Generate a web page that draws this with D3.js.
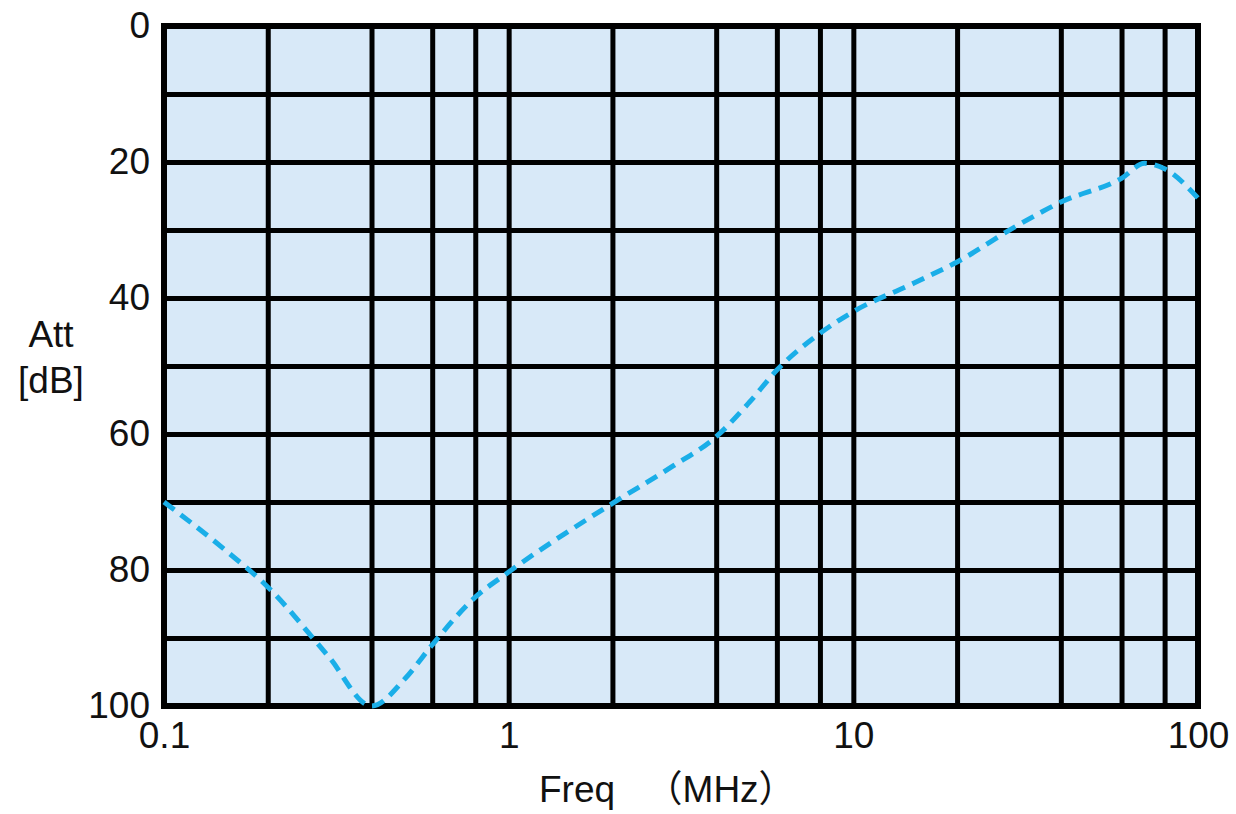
<!DOCTYPE html>
<html>
<head>
<meta charset="utf-8">
<script src="https://cdn.jsdelivr.net/npm/d3@7"></script>
<style>
  body { margin: 0; background: #fff; }
  text { font-family: "Liberation Sans", Arial, "Noto Sans CJK JP", sans-serif; }
</style>
</head>
<body>
<script>
// Data
let freqs = [0.1, 0.15, 0.2, 0.3, 0.4, 0.5, 0.6, 0.8, 1, 2, 3, 4, 5, 6, 8, 10, 15, 20, 30, 40, 60, 70, 80, 100];
let atts  = [70, 77, 82.5, 92.7, 100, 96, 91, 84, 80.3, 70.2, 64.7, 60.4, 55.3, 50.6, 45.2, 42, 37.8, 34.7, 29.3, 25.9, 22.4, 20.2, 21, 25.3];

let xGridValues = [0.1, 0.2, 0.4, 0.6, 0.8, 1, 2, 4, 6, 8, 10, 20, 40, 60, 80, 100];
let xLabelValues = [0.1, 1, 10, 100];
let yGridValues = [0, 10, 20, 30, 40, 50, 60, 70, 80, 90, 100];
let yLabelValues = [0, 20, 40, 60, 80, 100];

let svgWidth = 1236;
let svgHeight = 814;
let margin = {top: 26, right: 38, bottom: 108, left: 164};
let width = svgWidth - margin.left - margin.right;
let height = svgHeight - margin.top - margin.bottom;

let svg = d3.select("body")
  .append("svg")
  .attr("width", svgWidth)
  .attr("height", svgHeight);

let chartGroup = svg.append("g")
  .attr("transform", `translate(${margin.left}, ${margin.top})`);

let xScale = d3.scaleLog()
  .domain([0.1, 100])
  .range([0, width]);

let yScale = d3.scaleLinear()
  .domain([0, 100])
  .range([0, height]);

// background
chartGroup.append("rect")
  .attr("width", width)
  .attr("height", height)
  .attr("fill", "#d8e9f8");

// grid lines
let xGrid = chartGroup.append("g")
  .attr("transform", `translate(0, ${height})`)
  .call(d3.axisBottom(xScale).tickValues(xGridValues).tickSize(-height).tickFormat(""));

let yGrid = chartGroup.append("g")
  .call(d3.axisLeft(yScale).tickValues(yGridValues).tickSize(-width).tickFormat(""));

[xGrid, yGrid].forEach(g => {
  g.select(".domain").remove();
  g.selectAll(".tick line")
    .attr("stroke", "#000")
    .attr("stroke-width", 5);
});

// outer frame
chartGroup.append("rect")
  .attr("width", width)
  .attr("height", height)
  .attr("fill", "none")
  .attr("stroke", "#000")
  .attr("stroke-width", 6);

// the curve
let line = d3.line()
  .x((d, i) => xScale(freqs[i]))
  .y(d => yScale(d))
  .curve(d3.curveMonotoneX);

chartGroup.append("path")
  .datum(atts)
  .attr("d", line)
  .attr("fill", "none")
  .attr("stroke", "#1aaee8")
  .attr("stroke-width", 5)
  .attr("stroke-dasharray", "13,8");

// tick labels
let xLabels = chartGroup.append("g")
  .attr("transform", `translate(0, ${height})`)
  .call(d3.axisBottom(xScale).tickValues(xLabelValues).tickSize(0).tickPadding(16).tickFormat(d => String(d)));

let yLabels = chartGroup.append("g")
  .call(d3.axisLeft(yScale).tickValues(yLabelValues).tickSize(0).tickPadding(14).tickFormat(d => String(d)));

[xLabels, yLabels].forEach(g => {
  g.select(".domain").remove();
  g.selectAll("text")
    .attr("fill", "#111")
    .style("font-size", "37px")
    .style("font-family", "'Liberation Sans', Arial, sans-serif");
});

// axis titles
let xTitle = svg.append("text")
  .attr("x", 539)
  .attr("y", 802)
  .style("font-size", "37px")
  .attr("fill", "#111");
xTitle.append("tspan").text("Freq\u3000");
xTitle.append("tspan").attr("dx", 12).text("（MHz）");

svg.append("text")
  .attr("x", 51)
  .attr("y", 347)
  .attr("text-anchor", "middle")
  .style("font-size", "37px")
  .attr("fill", "#111")
  .text("Att");

svg.append("text")
  .attr("x", 51)
  .attr("y", 393)
  .attr("text-anchor", "middle")
  .style("font-size", "37px")
  .attr("fill", "#111")
  .text("[dB]");
</script>
</body>
</html>
